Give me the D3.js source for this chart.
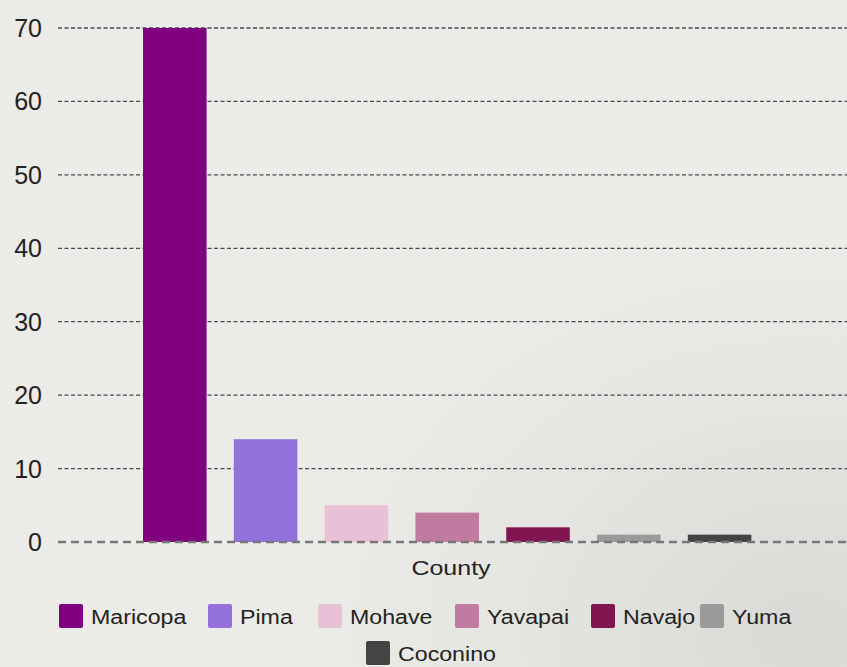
<!DOCTYPE html>
<html>
<head>
<meta charset="utf-8">
<script src="https://cdn.jsdelivr.net/npm/d3@7"></script>
<style>
html,body{margin:0;padding:0;background:#ebebe7;}
svg{display:block;font-family:"Liberation Sans",Arial,sans-serif;}
</style>
</head>
<body>
<svg id="chart" width="847" height="667"></svg>
<script>
const categories = ["Maricopa","Pima","Mohave","Yavapai","Navajo","Yuma","Coconino"];
const values = [70, 14, 5, 4, 2, 1, 1];
const colors = ["#800080","#9370db","#e8c1d6","#c27ba0","#82144f","#9a9a9a","#444444"];
const yTicks = [0,10,20,30,40,50,60,70];
const axisTitle = "County";

const svg = d3.select("#chart");
const W = 847, H = 667;

const defs = svg.append("defs");
const g = defs.append("radialGradient").attr("id","bg").attr("cx","0.95").attr("cy","0.95").attr("r","0.6");
g.append("stop").attr("offset","0").attr("stop-color","#d9d9d5");
g.append("stop").attr("offset","0.6").attr("stop-color","#e5e5e1");
g.append("stop").attr("offset","1").attr("stop-color","#ebebe7");
svg.append("rect").attr("width",W).attr("height",H).attr("fill","url(#bg)");

const y = d3.scaleLinear().domain([0,70]).range([542,28]);
const x = d3.scaleBand().domain(categories).range([129.4,765]).paddingInner(0.3).paddingOuter(0.15);

// grid lines
svg.append("g").selectAll("line").data(yTicks.filter(t=>t>0)).join("line")
  .attr("x1",58).attr("x2",W).attr("y1",d=>y(d)).attr("y2",d=>y(d))
  .attr("stroke","#4a4a4a").attr("stroke-width",1.3).attr("stroke-dasharray","4,2.5");

// y tick labels
svg.append("g").selectAll("text").data(yTicks).join("text")
  .attr("x",42).attr("y",d=>y(d)).attr("dy","0.36em")
  .attr("text-anchor","end").attr("font-size",25).attr("fill","#222")
  .text(d=>d);

// bars
svg.append("g").selectAll("rect").data(categories).join("rect")
  .attr("x",d=>x(d)).attr("width",x.bandwidth())
  .attr("y",(d,i)=>y(values[i])).attr("height",(d,i)=>y(0)-y(values[i]))
  .attr("fill",(d,i)=>colors[i]);

// zero line
svg.append("line").attr("x1",58).attr("x2",W).attr("y1",y(0)).attr("y2",y(0))
  .attr("stroke","#777").attr("stroke-width",2.5).attr("stroke-dasharray","8,5");

// axis title
svg.append("text").attr("transform","translate(451,575) scale(1.22,1)")
  .attr("text-anchor","middle").attr("font-size",20.5).attr("fill","#222").text(axisTitle);

// legend
const legendPos = [[59,604],[208,604],[318,604],[455,604],[591,604],[700,604],[366,641]];
const lg = svg.append("g").selectAll("g").data(categories).join("g")
  .attr("transform",(d,i)=>`translate(${legendPos[i][0]},${legendPos[i][1]})`);
lg.append("rect").attr("width",24).attr("height",24).attr("rx",2)
  .attr("fill",(d,i)=>colors[i]);
lg.append("text").attr("transform","translate(32,20) scale(1.16,1)")
  .attr("font-size",20).attr("fill","#222").text(d=>d);
</script>
</body>
</html>
